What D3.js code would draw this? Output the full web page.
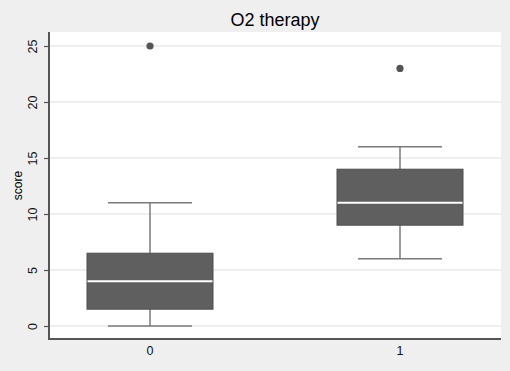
<!DOCTYPE html>
<html>
<head>
<meta charset="utf-8">
<script src="https://cdn.jsdelivr.net/npm/d3@7"></script>
<style>
  body { margin: 0; background: #efefef; }
  svg { display: block; font-family: "Liberation Sans", Arial, sans-serif; }
</style>
</head>
<body>
<script>
// datos
var groups = ["0", "1"];
var whiskerLow = [0, 6];
var q1 = [1.5, 9];
var median = [4, 11];
var q3 = [6.5, 14];
var whiskerHigh = [11, 16];
var outliers = [[25], [23]];
var yTicks = [0, 5, 10, 15, 20, 25];

var width = 510, height = 371;
var plot = {left: 49, right: 501, top: 32, bottom: 339};

var svg = d3.select("body").append("svg")
    .attr("width", width)
    .attr("height", height);

svg.append("rect")
    .attr("width", width).attr("height", height)
    .attr("fill", "#efefef");

svg.append("rect")
    .attr("x", plot.left).attr("y", plot.top)
    .attr("width", plot.right - plot.left)
    .attr("height", plot.bottom - plot.top)
    .attr("fill", "#fff");

// escalas
var x = d3.scaleBand()
    .domain(groups)
    .range([plot.left, plot.right])
    .paddingInner(0.496)
    .paddingOuter(0.152);

var y = d3.scaleLinear()
    .domain([0, 25])
    .range([326, 46]);

var boxes = groups.map(function(g, i) {
  return {g: g, lo: whiskerLow[i], q1: q1[i], med: median[i], q3: q3[i], hi: whiskerHigh[i], out: outliers[i]};
});

// lineas de grilla
svg.append("g").selectAll("line")
  .data(yTicks)
  .enter().append("line")
    .attr("x1", plot.left).attr("x2", plot.right)
    .attr("y1", d => y(d)).attr("y2", d => y(d))
    .attr("stroke", "#eaeaea")
    .attr("stroke-width", 1.5);

// ejes
var yAxis = svg.append("g")
    .attr("transform", "translate(" + plot.left + ",0)")
    .call(d3.axisLeft(y).tickValues(yTicks).tickSize(5));
yAxis.select(".domain").remove();
yAxis.selectAll(".tick line").attr("stroke", "#555").attr("stroke-width", 1.2);
yAxis.selectAll(".tick text")
    .attr("x", -16)
    .attr("y", 0)
    .attr("dy", "0.35em")
    .attr("transform", "rotate(-90,-16,0)")
    .attr("text-anchor", "middle")
    .attr("font-size", 12.5)
    .attr("fill", "#111")
    .attr("font-family", null);

svg.append("line")
    .attr("x1", plot.left).attr("x2", plot.left)
    .attr("y1", plot.top).attr("y2", plot.bottom + 1)
    .attr("stroke", "#555").attr("stroke-width", 2);

var xAxis = svg.append("g")
    .attr("transform", "translate(0," + plot.bottom + ")")
    .call(d3.axisBottom(x).tickSize(0).tickPadding(7));
xAxis.select(".domain").remove();
xAxis.selectAll(".tick text")
    .attr("font-size", 12.5)
    .attr("fill", "#111")
    .attr("font-family", null);

svg.append("line")
    .attr("x1", plot.left - 1).attr("x2", plot.right)
    .attr("y1", plot.bottom).attr("y2", plot.bottom)
    .attr("stroke", "#555").attr("stroke-width", 2);

// cajas
var bw = x.bandwidth();
var capW = bw * 0.667;
var gBox = svg.append("g").selectAll("g")
  .data(boxes)
  .enter().append("g");

gBox.append("line")
    .attr("x1", d => x(d.g) + bw / 2).attr("x2", d => x(d.g) + bw / 2)
    .attr("y1", d => y(d.lo)).attr("y2", d => y(d.hi))
    .attr("stroke", "#7a7a7a").attr("stroke-width", 1.5);

gBox.selectAll(".cap")
  .data(d => [d.lo, d.hi].map(v => ({g: d.g, v: v})))
  .enter().append("line")
    .attr("class", "cap")
    .attr("x1", d => x(d.g) + bw / 2 - capW / 2)
    .attr("x2", d => x(d.g) + bw / 2 + capW / 2)
    .attr("y1", d => y(d.v)).attr("y2", d => y(d.v))
    .attr("stroke", "#7a7a7a").attr("stroke-width", 1.5);

gBox.append("rect")
    .attr("x", d => x(d.g))
    .attr("y", d => y(d.q3))
    .attr("width", bw)
    .attr("height", d => y(d.q1) - y(d.q3))
    .attr("fill", "#5f5f5f")
    .attr("stroke", "#4f4f4f")
    .attr("stroke-width", 1);

gBox.append("line")
    .attr("x1", d => x(d.g) + 0.5).attr("x2", d => x(d.g) + bw - 0.5)
    .attr("y1", d => y(d.med)).attr("y2", d => y(d.med))
    .attr("stroke", "#fff").attr("stroke-width", 2);

gBox.selectAll(".out")
  .data(d => d.out.map(v => ({g: d.g, v: v})))
  .enter().append("circle")
    .attr("class", "out")
    .attr("cx", d => x(d.g) + bw / 2)
    .attr("cy", d => y(d.v))
    .attr("r", 3.6)
    .attr("fill", "#555");

// titulos
svg.append("text")
    .attr("x", (plot.left + plot.right) / 2)
    .attr("y", 26)
    .attr("text-anchor", "middle")
    .attr("font-size", 18)
    .attr("fill", "#000")
    .text("O2 therapy");

svg.append("text")
    .attr("transform", "translate(18," + ((plot.top + plot.bottom) / 2) + ") rotate(-90)")
    .attr("text-anchor", "middle")
    .attr("dy", "0.35em")
    .attr("font-size", 12)
    .attr("fill", "#000")
    .text("score");
</script>
</body>
</html>
